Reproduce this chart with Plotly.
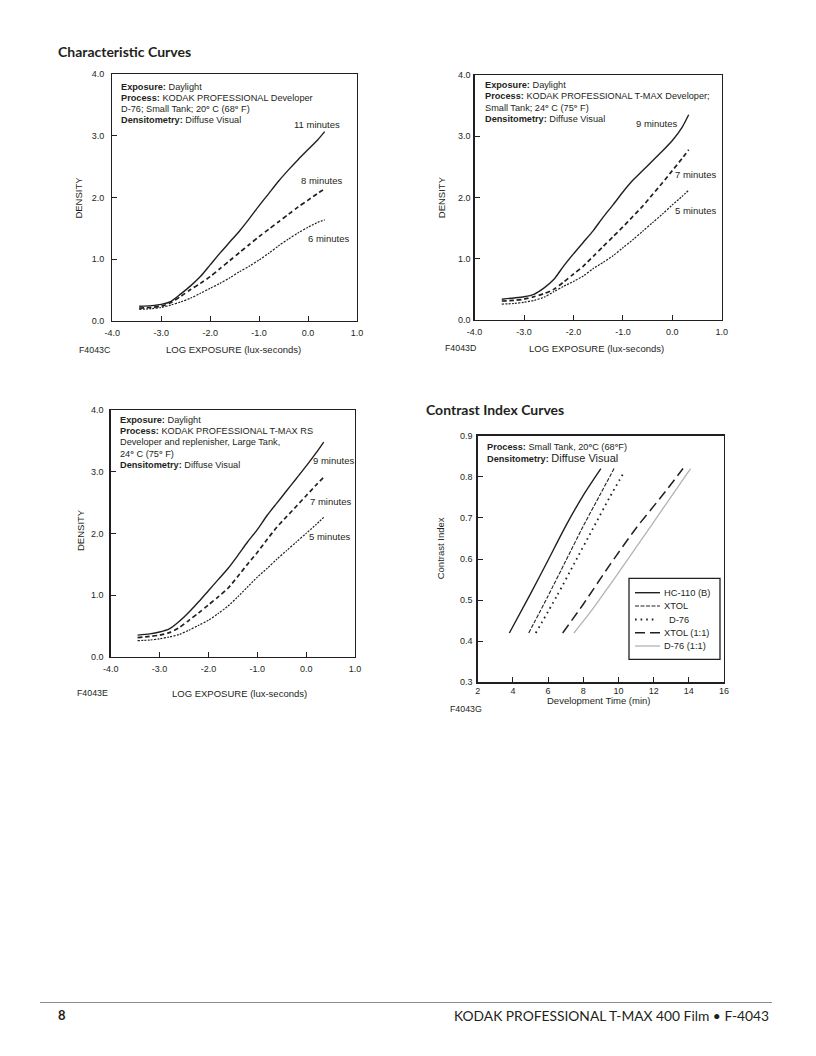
import plotly.graph_objects as go

# The page body keeps its default 8 px margin, so the figure is 800x1040
# and sits at (8, 8) in the 816x1056 window.  Page pixels -> paper coords:
W, H, OFF = 800, 1040, 8


def px(x):
    return (x - OFF) / W


def py(y):
    return 1 - (y - OFF) / H


INK = "#231f20"
TXT = "Liberation Sans, Arial, Helvetica, sans-serif"
HEAD = "Lato, Open Sans, sans-serif"

# ---------------- data ----------------
# Chart 1: D-76, Small Tank, 20 C
log_e_d76 = [-3.45, -3.2, -3.0, -2.8, -2.6, -2.4, -2.2, -2.0, -1.8, -1.6,
             -1.4, -1.2, -1.0, -0.8, -0.6, -0.4, -0.2, 0.0, 0.2, 0.34]
d76_11min = [0.24, 0.25, 0.27, 0.32, 0.44, 0.57, 0.72, 0.91, 1.10, 1.28,
             1.46, 1.66, 1.87, 2.07, 2.27, 2.45, 2.62, 2.78, 2.94, 3.07]
d76_8min = [0.21, 0.22, 0.24, 0.30, 0.40, 0.51, 0.61, 0.72, 0.85, 0.98,
            1.11, 1.24, 1.37, 1.49, 1.61, 1.73, 1.85, 1.96, 2.07, 2.14]
d76_6min = [0.19, 0.20, 0.22, 0.26, 0.31, 0.37, 0.45, 0.53, 0.61, 0.70,
            0.80, 0.89, 0.99, 1.10, 1.22, 1.33, 1.43, 1.52, 1.60, 1.64]

# Chart 2: T-MAX Developer, Small Tank, 24 C
log_e_tmax = [-3.45, -3.2, -3.0, -2.8, -2.6, -2.4, -2.2, -2.0, -1.8, -1.6,
              -1.4, -1.2, -1.0, -0.8, -0.6, -0.4, -0.2, 0.0, 0.2, 0.33]
tmax_9min = [0.34, 0.36, 0.38, 0.42, 0.52, 0.66, 0.88, 1.08, 1.27, 1.46,
             1.68, 1.88, 2.09, 2.28, 2.44, 2.60, 2.76, 2.93, 3.15, 3.35]
tmax_7min = [0.31, 0.32, 0.34, 0.38, 0.43, 0.50, 0.62, 0.75, 0.88, 1.04,
             1.20, 1.36, 1.52, 1.69, 1.86, 2.05, 2.24, 2.44, 2.64, 2.78]
tmax_5min = [0.26, 0.27, 0.29, 0.32, 0.37, 0.46, 0.55, 0.63, 0.72, 0.84,
             0.94, 1.05, 1.18, 1.31, 1.45, 1.59, 1.73, 1.88, 2.02, 2.12]

# Chart 3: T-MAX RS Developer, Large Tank, 24 C
log_e_rs = [-3.45, -3.2, -3.0, -2.8, -2.6, -2.4, -2.2, -2.0, -1.8, -1.6,
            -1.4, -1.2, -1.0, -0.8, -0.6, -0.4, -0.2, 0.0, 0.2, 0.36]
rs_9min = [0.35, 0.37, 0.40, 0.45, 0.57, 0.72, 0.89, 1.07, 1.25, 1.43,
           1.64, 1.86, 2.06, 2.29, 2.49, 2.69, 2.89, 3.09, 3.30, 3.48]
rs_7min = [0.31, 0.33, 0.35, 0.39, 0.47, 0.59, 0.71, 0.84, 0.97, 1.11,
           1.30, 1.50, 1.69, 1.90, 2.10, 2.27, 2.44, 2.61, 2.78, 2.91]
rs_5min = [0.26, 0.27, 0.29, 0.32, 0.36, 0.43, 0.51, 0.59, 0.70, 0.82,
           0.97, 1.13, 1.29, 1.43, 1.58, 1.72, 1.86, 2.00, 2.14, 2.26]

# Chart 4: Contrast index vs development time
hc110_t = [3.8, 5.0, 6.0, 7.0, 8.0, 9.0]
hc110_ci = [0.42, 0.515, 0.597, 0.68, 0.755, 0.82]
xtol_t = [4.9, 6.0, 7.0, 8.0, 9.0, 9.75]
xtol_ci = [0.42, 0.51, 0.595, 0.68, 0.76, 0.82]
d76_t = [5.3, 6.5, 7.5, 8.5, 9.5, 10.3]
d76_ci = [0.42, 0.51, 0.59, 0.67, 0.75, 0.81]
xtol11_t = [6.83, 8.0, 9.5, 11.0, 12.5, 13.67]
xtol11_ci = [0.42, 0.49, 0.585, 0.675, 0.755, 0.82]
d7611_t = [7.47, 8.5, 9.5, 10.5, 12.0, 13.0, 14.1]
d7611_ci = [0.42, 0.476, 0.536, 0.597, 0.69, 0.752, 0.82]

series_names = ["HC-110 (B)", "XTOL", "D-76", "XTOL (1:1)", "D-76 (1:1)"]

density_ticks = [0, 1, 2, 3, 4]
log_ticks = [-4, -3, -2, -1, 0, 1]
time_ticks = [2, 4, 6, 8, 10, 12, 14, 16]
ci_ticks = [0.3, 0.4, 0.5, 0.6, 0.7, 0.8, 0.9]

# ---------------- figure ----------------
fig = go.Figure()

SOLID = dict(color=INK, width=1.4)
DASHED = dict(color=INK, width=1.7, dash="4.5px,3px")
DOTTED = dict(color=INK, width=1.2, dash="2px,1.3px")

STYLE4 = [
    dict(color=INK, width=1.4),
    dict(color=INK, width=1.1, dash="4px,1.5px"),
    dict(color=INK, width=1.8, dash="1.6px,4px"),
    dict(color=INK, width=1.5, dash="10px,5px"),
    dict(color="#b3b3b3", width=1.3),
]


def curve(x, y, line, ax):
    fig.add_trace(go.Scatter(
        x=x, y=y, mode="lines", line=dict(shape="spline", smoothing=0.7, **line),
        xaxis="x" + ax, yaxis="y" + ax, showlegend=False, hoverinfo="skip"))


curve(log_e_d76, d76_11min, SOLID, "")
curve(log_e_d76, d76_8min, DASHED, "")
curve(log_e_d76, d76_6min, DOTTED, "")
curve(log_e_tmax, tmax_9min, SOLID, "2")
curve(log_e_tmax, tmax_7min, DASHED, "2")
curve(log_e_tmax, tmax_5min, DOTTED, "2")
curve(log_e_rs, rs_9min, SOLID, "3")
curve(log_e_rs, rs_7min, DASHED, "3")
curve(log_e_rs, rs_5min, DOTTED, "3")

ci_series = [(hc110_t, hc110_ci), (xtol_t, xtol_ci), (d76_t, d76_ci),
             (xtol11_t, xtol11_ci), (d7611_t, d7611_ci)]
for (t, ci), st in zip(ci_series, STYLE4):
    curve(t, ci, st, "4")


def axis(domain, rng, ticks, anchor, fmt, standoff):
    return dict(
        domain=domain, range=rng, anchor=anchor, automargin=False,
        tickmode="array", tickvals=ticks, ticktext=[fmt(t) for t in ticks],
        showline=True, linecolor=INK, linewidth=1.3, mirror=True,
        ticks="inside", ticklen=5, tickwidth=1, tickcolor=INK,
        showgrid=False, zeroline=False, fixedrange=True,
        tickfont=dict(family=TXT, size=9, color=INK),
        ticklabelstandoff=standoff,
    )


f1 = lambda v: "%.1f" % v
fi = lambda v: "%d" % v

# plot frames in page pixels (left, right, top, bottom)
P1 = (112.3, 357.0, 74.3, 321.0)
P2 = (474.6, 721.8, 75.0, 320.0)
P3 = (110.7, 355.0, 410.0, 656.7)
P4 = (477.7, 724.0, 435.7, 682.3)


def dom(p):
    return [px(p[0]), px(p[1])], [py(p[3]), py(p[2])]


d1x, d1y = dom(P1)
d2x, d2y = dom(P2)
d3x, d3y = dom(P3)
d4x, d4y = dom(P4)

fig.update_layout(
    template="none",
    width=W, height=H,
    margin=dict(l=0, r=0, t=0, b=0, pad=0, autoexpand=False),
    paper_bgcolor="white", plot_bgcolor="white",
    xaxis=axis(d1x, [-4, 1], log_ticks, "y", f1, 3),
    yaxis=axis(d1y, [0, 4], density_ticks, "x", f1, 5),
    xaxis2=axis(d2x, [-4, 1], log_ticks, "y2", f1, 3),
    yaxis2=axis(d2y, [0, 4], density_ticks, "x2", f1, 1),
    xaxis3=axis(d3x, [-4, 1], log_ticks, "y3", f1, 3),
    yaxis3=axis(d3y, [0, 4], density_ticks, "x3", f1, 4),
    xaxis4=axis(d4x, [2, 16], time_ticks, "y4", fi, 0),
    yaxis4=axis(d4y, [0.3, 0.9], ci_ticks, "x4", f1, 2),
    showlegend=False,
)

ann = []


def text(s, x, y, size=9.2, xanchor="left", angle=0, family=TXT, color=INK):
    ann.append(dict(text=s, x=px(x), y=py(y), xref="paper", yref="paper",
                    xanchor=xanchor, yanchor="middle", showarrow=False,
                    textangle=angle, font=dict(family=family, size=size, color=color)))


# headings
text("<b>Characteristic Curves</b>", 55.5, 52, size=14, family=HEAD)
text("<b>Contrast Index Curves</b>", 424, 410, size=14, family=HEAD)

# chart 1 captions
for s, y in [("<b>Exposure:</b> Daylight", 86.7),
             ("<b>Process:</b> KODAK PROFESSIONAL Developer", 97.7),
             ("D-76; Small Tank; 20<b>°</b> C (68<b>°</b> F)", 109.0),
             ("<b>Densitometry:</b> Diffuse Visual", 120.3)]:
    text(s, 118.5, y)
text("11 minutes", 316.7, 124, size=9.5, xanchor="center")
text("8 minutes", 321, 181, size=9.5, xanchor="center")
text("6 minutes", 328.3, 238.3, size=9.5, xanchor="center")
text("DENSITY", 79, 197.6, size=9.5, xanchor="center", angle=-90)
text("LOG EXPOSURE (lux-seconds)", 233, 350, size=9.5, xanchor="center")
text("F4043C", 77, 350, size=8.8)

# chart 2 captions
for s, y in [("<b>Exposure:</b> Daylight", 85.0),
             ("<b>Process:</b> KODAK PROFESSIONAL T-MAX Developer;", 96.0),
             ("Small Tank; 24<b>°</b> C (75<b>°</b> F)", 107.7),
             ("<b>Densitometry:</b> Diffuse Visual", 119.3)]:
    text(s, 482.8, y)
text("9 minutes", 656.7, 123.3, size=9.5, xanchor="center")
text("7 minutes", 695, 174.3, size=9.5, xanchor="center")
text("5 minutes", 695, 211, size=9.5, xanchor="center")
text("DENSITY", 441.7, 197.5, size=9.5, xanchor="center", angle=-90)
text("LOG EXPOSURE (lux-seconds)", 596.7, 348.3, size=9.5, xanchor="center")
text("F4043D", 443, 348.3, size=8.8)

# chart 3 captions
for s, y in [("<b>Exposure:</b> Daylight", 420.0),
             ("<b>Process:</b> KODAK PROFESSIONAL T-MAX RS", 431.0),
             ("Developer and replenisher, Large Tank,", 442.3),
             ("24<b>°</b> C (75<b>°</b> F)", 454.0),
             ("<b>Densitometry:</b> Diffuse Visual", 465.3)]:
    text(s, 118.3, y)
text("9 minutes", 333.3, 460, size=9.5, xanchor="center")
text("7 minutes", 330, 501, size=9.5, xanchor="center")
text("5 minutes", 329, 536.7, size=9.5, xanchor="center")
text("DENSITY", 80, 530, size=9.5, xanchor="center", angle=-90)
text("LOG EXPOSURE (lux-seconds)", 240, 693.3, size=9.5, xanchor="center")
text("F4043E", 75, 693.3, size=8.8)

# chart 4 captions
text("<b>Process:</b> Small Tank, 20<b>°</b>C (68<b>°</b>F)", 485, 447.3)
text("<b>Densitometry:</b> <span style='font-size:11px'>Diffuse Visual</span>", 485, 458)
text("Contrast Index", 440, 548.3, size=9.5, xanchor="center", angle=-90)
text("Development Time (min)", 598.3, 700.7, size=9.5, xanchor="center")
text("F4043G", 447.7, 709, size=8.8)

shapes = []

# legend of chart 4 (box, samples, labels)
LEG_BOX = (629, 720, 578.3, 659.3)
leg_rows = [592.7, 606.0, 619.5, 632.7, 646.0]
leg_text_x = [661.7, 661.7, 666.5, 661.7, 661.7]
shapes.append(dict(type="rect", xref="paper", yref="paper",
                   x0=px(LEG_BOX[0]), x1=px(LEG_BOX[1]),
                   y0=py(LEG_BOX[3]), y1=py(LEG_BOX[2]),
                   line=dict(color=INK, width=1.3), fillcolor="rgba(0,0,0,0)"))
for name, st, yy, tx in zip(series_names, STYLE4, leg_rows, leg_text_x):
    shapes.append(dict(type="line", xref="paper", yref="paper",
                       x0=px(635), x1=px(660 if name != "D-76" else 656),
                       y0=py(yy), y1=py(yy), line=st))
    text(name, tx, yy, size=9.3)

# footer
text("<b>8</b>", 56, 1015, size=13, family=HEAD)
text("KODAK PROFESSIONAL T-MAX 400 Film • F-4043", 771, 1015, size=13.8,
     xanchor="right", family=HEAD)
shapes.append(dict(type="line", xref="paper", yref="paper",
                   x0=px(40), x1=px(772), y0=py(1002.5), y1=py(1002.5),
                   line=dict(color="#8c8c8c", width=1)))

fig.update_layout(annotations=ann, shapes=shapes)

fig.write_html("out.html", config={"displayModeBar": False, "staticPlot": True})
